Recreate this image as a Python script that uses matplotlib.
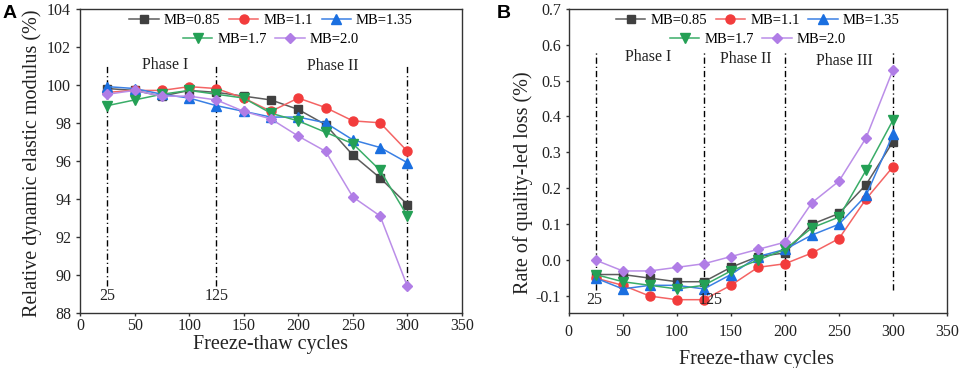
import matplotlib
matplotlib.use("Agg")
import matplotlib.pyplot as plt

plt.rcParams['font.family'] = ['Liberation Serif', 'DejaVu Serif']

cycles = [25, 50, 75, 100, 125, 150, 175, 200, 225, 250, 275, 300]
labels = ["MB=0.85", "MB=1.1", "MB=1.35", "MB=1.7", "MB=2.0"]

# Panel A: relative dynamic elastic modulus (%)
rdem_085 = [99.8, 99.7, 99.4, 99.7, 99.6, 99.4, 99.2, 98.7, 97.9, 96.3, 95.1, 93.7]
rdem_110 = [99.6, 99.7, 99.7, 99.9, 99.8, 99.3, 98.6, 99.3, 98.8, 98.1, 98.0, 96.5]
rdem_135 = [99.9, 99.8, 99.5, 99.3, 98.9, 98.6, 98.3, 98.3, 98.0, 97.1, 96.7, 95.9]
rdem_170 = [98.9, 99.2, 99.5, 99.7, 99.5, 99.3, 98.5, 98.1, 97.5, 96.9, 95.5, 93.1]
rdem_200 = [99.5, 99.7, 99.4, 99.4, 99.2, 98.6, 98.2, 97.3, 96.5, 94.1, 93.1, 89.4]

# Panel B: rate of quality-led loss (%)
loss_085 = [-0.04, -0.04, -0.05, -0.06, -0.06, -0.02, 0.01, 0.02, 0.10, 0.13, 0.21, 0.33]
loss_110 = [-0.05, -0.07, -0.10, -0.11, -0.11, -0.07, -0.02, -0.01, 0.02, 0.06, 0.17, 0.26]
loss_135 = [-0.05, -0.08, -0.07, -0.07, -0.08, -0.04, 0.01, 0.03, 0.07, 0.10, 0.18, 0.35]
loss_170 = [-0.04, -0.06, -0.07, -0.08, -0.07, -0.03, 0.00, 0.03, 0.09, 0.12, 0.25, 0.39]
loss_200 = [0.00, -0.03, -0.03, -0.02, -0.01, 0.01, 0.03, 0.05, 0.16, 0.22, 0.34, 0.53]

xticks = [0, 50, 100, 150, 200, 250, 300, 350]
yticks_a = [88, 90, 92, 94, 96, 98, 100, 102, 104]
yticks_b = [-0.1, 0.0, 0.1, 0.2, 0.3, 0.4, 0.5, 0.6, 0.7]

phase_a = [25, 125, 300]
phase_b = [25, 125, 200, 300]
phase_names_a = ["Phase I", "Phase II"]
phase_names_b = ["Phase I", "Phase II", "Phase III"]

line_colors = ["#5c5c5c", "#f46464", "#3a80e4", "#3aad68", "#bb8ee8"]
marker_colors = ["#404040", "#f23c3c", "#1a6fe0", "#24a055", "#b07de6"]
markers = ["s", "o", "^", "v", "D"]
msizes = [5.5, 6.5, 6.5, 6.5, 5.5]

fig = plt.figure(figsize=(9.62, 3.68), dpi=100)
axA = fig.add_axes([0.0832, 0.1495, 0.397, 0.827])
axB = fig.add_axes([0.5912, 0.1495, 0.3933, 0.827])

dd = (4.5, 2.1, 0.9, 2.1)
TXT = "#222222"

def style_axes(ax):
    for s in ax.spines.values():
        s.set_color("#333333")
        s.set_linewidth(1.0)
    ax.tick_params(axis='both', direction='out', width=1.0,
                   color="#333333", labelsize=11.5, labelcolor=TXT,
                   top=False, right=False)
    ax.set_xlim(0, 350)
    ax.set_xticks(xticks)

def draw_series(ax, series):
    handles = []
    for vals, lab, lc, mc, mk, ms in zip(series, labels, line_colors, marker_colors, markers, msizes):
        h, = ax.plot(cycles, vals, color=lc, lw=1.1, marker=mk, markersize=ms,
                     markerfacecolor=mc, markeredgecolor=mc, label=lab, zorder=3)
        handles.append(h)
    l1 = ax.legend(handles[:3], labels[:3], loc='center', bbox_to_anchor=(0.5, 0.9606),
                   ncol=3, frameon=False, fontsize=10.5, handlelength=2.0,
                   handletextpad=0.35, columnspacing=0.6, borderpad=0, borderaxespad=0)
    ax.add_artist(l1)
    ax.legend(handles[3:], labels[3:], loc='center', bbox_to_anchor=(0.5, 0.8997),
              ncol=2, frameon=False, fontsize=10.5, handlelength=2.0,
              handletextpad=0.35, columnspacing=0.6, borderpad=0, borderaxespad=0)

# Panel A
style_axes(axA)
axA.set_ylim(88, 104)
axA.set_yticks(yticks_a)
axA.set_yticklabels([str(v) for v in yticks_a])
axA.tick_params(axis='x', length=2.5, pad=1.0)
axA.tick_params(axis='y', length=3.0, pad=3.5)
draw_series(axA, [rdem_085, rdem_110, rdem_135, rdem_170, rdem_200])
for xv in phase_a:
    axA.plot([xv, xv], [89.4, 101.0], color="black", lw=1.0, dashes=dd, zorder=2)
axA.text(25, 88.9, "25", ha='center', va='center', fontsize=11.5, color=TXT)
axA.text(125, 88.9, "125", ha='center', va='center', fontsize=11.5, color=TXT)
axA.text(78, 101.05, phase_names_a[0], ha='center', va='center', fontsize=11.5, color=TXT)
axA.text(232, 101.0, phase_names_a[1], ha='center', va='center', fontsize=11.5, color=TXT)
axA.set_xlabel("Freeze-thaw cycles", fontsize=14.5, color=TXT)
axA.xaxis.set_label_coords(0.5, -0.072)
axA.set_ylabel("Relative dynamic elastic modulus (%)", fontsize=14.5, color=TXT)
axA.yaxis.set_label_coords(-0.0995, 0.493)

# Panel B
style_axes(axB)
axB.set_ylim(-0.147, 0.7)
axB.set_yticks(yticks_b)
axB.set_yticklabels([f"{v:.1f}" for v in yticks_b])
axB.tick_params(axis='x', length=2.5, pad=5.5)
axB.tick_params(axis='y', length=2.0, pad=3.5)
draw_series(axB, [loss_085, loss_110, loss_135, loss_170, loss_200])
for xv in phase_b:
    axB.plot([xv, xv], [-0.082, 0.58], color="black", lw=1.0, dashes=dd, zorder=2)
axB.text(24, -0.111, "25", ha='center', va='center', fontsize=11.5, color=TXT)
axB.text(131, -0.111, "125", ha='center', va='center', fontsize=11.5, color=TXT)
axB.text(73, 0.565, phase_names_b[0], ha='center', va='center', fontsize=11.5, color=TXT)
axB.text(164, 0.56, phase_names_b[1], ha='center', va='center', fontsize=11.5, color=TXT)
axB.text(255, 0.553, phase_names_b[2], ha='center', va='center', fontsize=11.5, color=TXT)
axB.set_xlabel("Freeze-thaw cycles", fontsize=14.5, color=TXT)
axB.xaxis.set_label_coords(0.497, -0.12)
axB.set_ylabel("Rate of quality-led loss (%)", fontsize=14.5, color=TXT)
axB.yaxis.set_label_coords(-0.094, 0.427)

fig.text(10 / 962, 1 - 13.5 / 368, "A", fontsize=14, fontweight='bold',
         family=['Liberation Sans', 'DejaVu Sans'], ha='center', va='center')
fig.text(504 / 962, 1 - 13.5 / 368, "B", fontsize=14, fontweight='bold',
         family=['Liberation Sans', 'DejaVu Sans'], ha='center', va='center')

fig.savefig("out.png", dpi=100)
